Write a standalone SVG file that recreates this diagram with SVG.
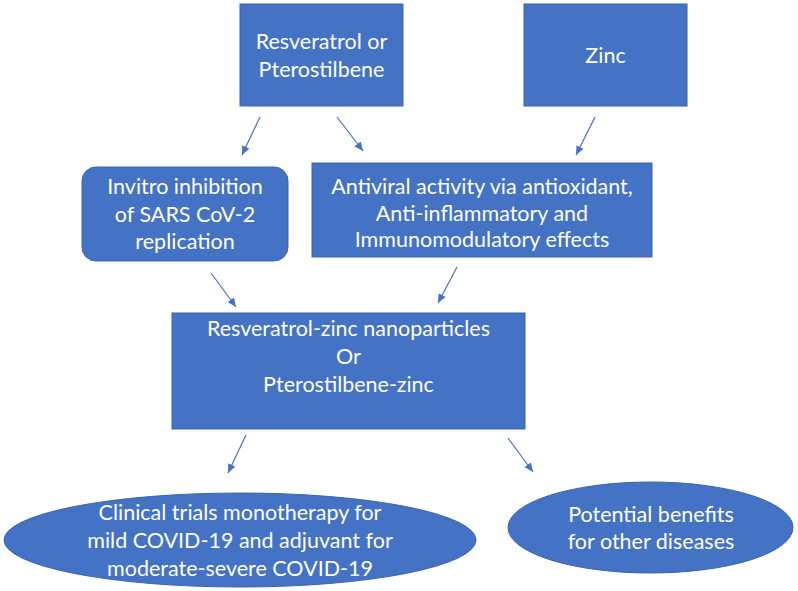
<svg xmlns="http://www.w3.org/2000/svg" width="798" height="591" viewBox="0 0 798 591">
<defs>
<style>
.n{fill:#4472C4;stroke:#3A64AE;stroke-width:1}
.t{font-family:Lato,"Open Sans","Liberation Sans",sans-serif;font-size:21.5px;fill:#ffffff;text-anchor:middle}
.c{stroke:#4472C4;stroke-width:1.2;fill:none;marker-end:url(#ah)}
</style>
<marker id="ah" markerUnits="userSpaceOnUse" markerWidth="10" markerHeight="10" viewBox="0 0 10 10" refX="9" refY="5" orient="auto">
<path d="M0,1 L9,5 L0,9 Z" fill="#4472C4"/>
</marker>
</defs>
<rect width="798" height="591" fill="#ffffff"/>
<g id="connectors">
<line class="c" x1="260" y1="117" x2="242" y2="155"/>
<line class="c" x1="337" y1="117" x2="363" y2="151"/>
<line class="c" x1="595" y1="117" x2="576" y2="155"/>
<line class="c" x1="211" y1="273" x2="236" y2="307"/>
<line class="c" x1="457" y1="267" x2="438" y2="303"/>
<line class="c" x1="246" y1="435" x2="228" y2="473"/>
<line class="c" x1="508" y1="438" x2="533" y2="472"/>
</g>
<g id="resveratrol">
<rect class="n" x="240" y="4" width="163" height="102"/>
<text class="t" x="321.5" y="49">Resveratrol or</text>
<text class="t" x="321.5" y="77">Pterostilbene</text>
</g>
<g id="zinc">
<rect class="n" x="524" y="4" width="163" height="102"/>
<text class="t" x="605.5" y="63">Zinc</text>
</g>
<g id="invitro">
<rect class="n" x="82" y="167" width="206" height="94" rx="14"/>
<text class="t" x="185" y="194">Invitro inhibition</text>
<text class="t" x="185" y="222">of SARS CoV-2</text>
<text class="t" x="185" y="249">replication</text>
</g>
<g id="antiviral">
<rect class="n" x="312" y="163" width="340" height="94"/>
<text class="t" x="482" y="194">Antiviral activity via antioxidant,</text>
<text class="t" x="482" y="221">Anti-inflammatory and</text>
<text class="t" x="482" y="247">Immunomodulatory effects</text>
</g>
<g id="nanoparticles">
<rect class="n" x="172" y="313" width="353" height="116"/>
<text class="t" x="348.5" y="336">Resveratrol-zinc nanoparticles</text>
<text class="t" x="348.5" y="364">Or</text>
<text class="t" x="348.5" y="392">Pterostilbene-zinc</text>
</g>
<g id="clinical">
<ellipse class="n" cx="240" cy="540" rx="236" ry="47"/>
<text class="t" x="240" y="520">Clinical trials monotherapy for</text>
<text class="t" x="240" y="548">mild COVID-19 and adjuvant for</text>
<text class="t" x="240" y="576">moderate-severe COVID-19</text>
</g>
<g id="benefits">
<ellipse class="n" cx="650.5" cy="527.5" rx="142.5" ry="45.5"/>
<text class="t" x="651" y="522">Potential benefits</text>
<text class="t" x="651" y="549">for other diseases</text>
</g>
</svg>
